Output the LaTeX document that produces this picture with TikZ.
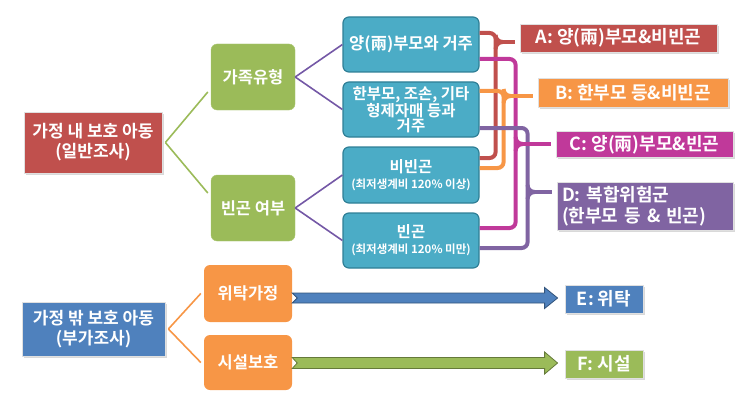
\documentclass[tikz,border=0pt]{standalone}
\usepackage{fontspec}
\setmainfont{Noto Sans CJK KR}[BoldFont={Noto Sans CJK KR Bold}]
\usetikzlibrary{shadows,calc}
\definecolor{cred}{HTML}{C0504D}
\definecolor{cgreen}{HTML}{9BBB59}
\definecolor{cteal}{HTML}{4BACC6}
\definecolor{ctealdk}{HTML}{2F7F96}
\definecolor{corange}{HTML}{F79646}
\definecolor{cblue}{HTML}{4F81BD}
\definecolor{cmag}{HTML}{C0399A}
\definecolor{cpurple}{HTML}{8064A2}
\definecolor{clinep}{HTML}{7458A6}
\begin{document}
\begin{tikzpicture}[x=1pt,y=-1pt,
  every node/.style={text=white, inner sep=0pt, align=center},
  sqbox/.style={rectangle, draw=white!88!black, line width=0.8pt,
    drop shadow={opacity=0.3, shadow xshift=1.8pt, shadow yshift=-1.8pt}},
  rbox/.style={rectangle, rounded corners=6pt},
  bigf/.style={font=\bfseries\fontsize{17}{20}\selectfont},
  midf/.style={font=\bfseries\fontsize{16.5}{16}\selectfont},
  lblf/.style={font=\bfseries\fontsize{18}{22}\selectfont},
  brline/.style={line width=4pt, rounded corners=6pt},
  thin/.style={line width=1.6pt},
  stub/.style={line width=4pt, shorten >=5pt}
]
\useasboundingbox (0,0) rectangle (750,412);

% left roots
\node[sqbox, fill=cred, bigf, minimum width=138pt, minimum height=61pt] (r0) at (93,142.5) {가정 내 보호 아동\\(일반조사)};
\node[sqbox, fill=cblue, bigf, minimum width=143pt, minimum height=54pt] (b0) at (93.5,329) {가정 밖 보호 아동\\(부가조사)};

% green
\node[rbox, fill=cgreen, draw=cgreen!85!white, midf, minimum width=84pt, minimum height=66pt] (g1) at (253,77) {가족유형};
\node[rbox, fill=cgreen, draw=cgreen!85!white, midf, minimum width=84pt, minimum height=66pt] (g2) at (253,208) {빈곤 여부};

% orange
\node[rbox, fill=corange, midf, minimum width=88pt, minimum height=57pt] (o1) at (248,293.5) {위탁가정};
\node[rbox, fill=corange, midf, minimum width=88pt, minimum height=55pt] (o2) at (248,362.5) {시설보호};

% teal
\node[rbox, fill=cteal, draw=ctealdk, line width=1.2pt, midf, minimum width=136pt, minimum height=55pt] (t1) at (411,44.5) {양(兩)부모와 거주};
\node[rbox, fill=cteal, draw=ctealdk, line width=1.2pt, font=\bfseries\fontsize{15.5}{15}\selectfont, minimum width=136pt, minimum height=55pt] (t2) at (411,109.5) {한부모, 조손, 기타\\형제자매 등과\\거주};
\node[rbox, fill=cteal, draw=ctealdk, line width=1.2pt, minimum width=136pt, minimum height=56pt] (t3) at (411,175) {{\bfseries\fontsize{15.5}{16}\selectfont 비빈곤}\\[4pt]{\bfseries\fontsize{11.5}{13}\selectfont (최저생계비 120\% 이상)}};
\node[rbox, fill=cteal, draw=ctealdk, line width=1.2pt, minimum width=136pt, minimum height=55pt] (t4) at (411,240.5) {{\bfseries\fontsize{15.5}{16}\selectfont 빈곤}\\[4pt]{\bfseries\fontsize{11.5}{13}\selectfont (최저생계비 120\% 미만)}};

% right labels
\node[sqbox, fill=cred, lblf, minimum width=197pt, minimum height=28pt] (A) at (618.5,38) {A: 양(兩)부모\&비빈곤};
\node[sqbox, fill=corange, lblf, minimum width=190pt, minimum height=29pt] (B) at (633,92.5) {B: 한부모 등\&비빈곤};
\node[sqbox, fill=cmag, lblf, minimum width=177pt, minimum height=26pt] (C) at (644.5,144.5) {C: 양(兩)부모\&빈곤};
\node[sqbox, fill=cpurple, font=\bfseries\fontsize{18}{21}\selectfont, align=left, minimum width=176pt, minimum height=48pt, text width=166pt] (D) at (645,206) {D: 복합위험군\\(한부모 등 \& 빈곤)};
\node[sqbox, fill=cblue, lblf, minimum width=78pt, minimum height=28pt] (E) at (604,299) {E: 위탁};
\node[sqbox, fill=cgreen, lblf, minimum width=78pt, minimum height=28pt] (F) at (604,364) {F: 시설};

% tree connectors
\draw[cgreen, thin] ([xshift=3pt]r0.east) -- ([yshift=-15pt,xshift=-3pt]g1.west);
\draw[cgreen, thin] ([xshift=3pt]r0.east) -- ([yshift=15pt,xshift=-3pt]g2.west);
\draw[clinep, thin] (g1.east) -- (t1.west);
\draw[clinep, thin] (g1.east) -- (t2.west);
\draw[clinep, thin] (g2.east) -- (t3.west);
\draw[clinep, thin] (g2.east) -- (t4.west);
\draw[corange, thin] ([xshift=3pt]b0.east) -- ([xshift=-3pt]o1.west);
\draw[corange, thin] ([xshift=3pt]b0.east) -- ([xshift=-3pt]o2.west);

% braces
\coordinate (vr) at ($(t1.east)+(16,0)$);
\coordinate (vo) at ($(t2.east)+(24,0)$);
\coordinate (vm) at ($(t3.east)+(36,0)$);
\coordinate (vp) at ($(t3.east)+(48,0)$);
\coordinate (cr) at ($(t1.east)+(16,-2.5)$);
\coordinate (co) at ($(t2.east)+(24,-13.5)$);
\coordinate (cm) at ($(t3.east)+(36,-31)$);
\coordinate (cp) at ($(t3.east)+(48,17)$);

\draw[brline, cred] ([yshift=11.5pt]t1.east) -| (vr) |- ([yshift=17pt]t3.east);
\draw[brline, corange] ([yshift=18.5pt]t2.east) -| (vo) |- ([yshift=7pt]t3.east);
\draw[brline, cmag] ([yshift=-14.5pt]t1.east) -| (vm) |- ([yshift=12.5pt]t4.east);
\draw[brline, cpurple] ([yshift=-18.5pt]t2.east) -| (vp) |- ([yshift=-7.5pt]t4.east);

\foreach \c/\col/\tg in {cr/cred/A, co/corange/B, cm/cmag/C, cp/cpurple/D}{
  \coordinate (s\c) at ($(\c)+(7,0)$);
  \draw[line width=4pt, \col] ($(\c)+(0,-7)$) to[out=-90,in=180] (s\c) to[out=180,in=90] ($(\c)+(0,7)$);
  \draw[stub, \col] (s\c) -- (s\c -| \tg.west);
}

% block arrows
\coordinate (ta) at ($(o1.east)+(0,4.5)$);
\coordinate (tipa) at ($(E.west)+(-7,-1)$);
\filldraw[fill=cblue, draw=cblue!65!black, line width=0.8pt]
  ($(ta)+(0,-5)$) -- ($(tipa)+(-13,-5)$) -- ($(tipa)+(-13,-10.5)$) -- (tipa)
  -- ($(tipa)+(-13,10.5)$) -- ($(tipa)+(-13,5)$) -- ($(ta)+(0,5)$) -- ($(ta)+(5,0)$) -- cycle;
\coordinate (tb) at ($(o2.east)+(0,0.5)$);
\coordinate (tipb) at ($(F.west)+(-7,-1)$);
\filldraw[fill=cgreen, draw=cgreen!65!black, line width=0.8pt]
  ($(tb)+(0,-5.5)$) -- ($(tipb)+(-13,-5.5)$) -- ($(tipb)+(-13,-11)$) -- (tipb)
  -- ($(tipb)+(-13,11)$) -- ($(tipb)+(-13,5.5)$) -- ($(tb)+(0,5.5)$) -- ($(tb)+(5,0)$) -- cycle;
\end{tikzpicture}
\end{document}
